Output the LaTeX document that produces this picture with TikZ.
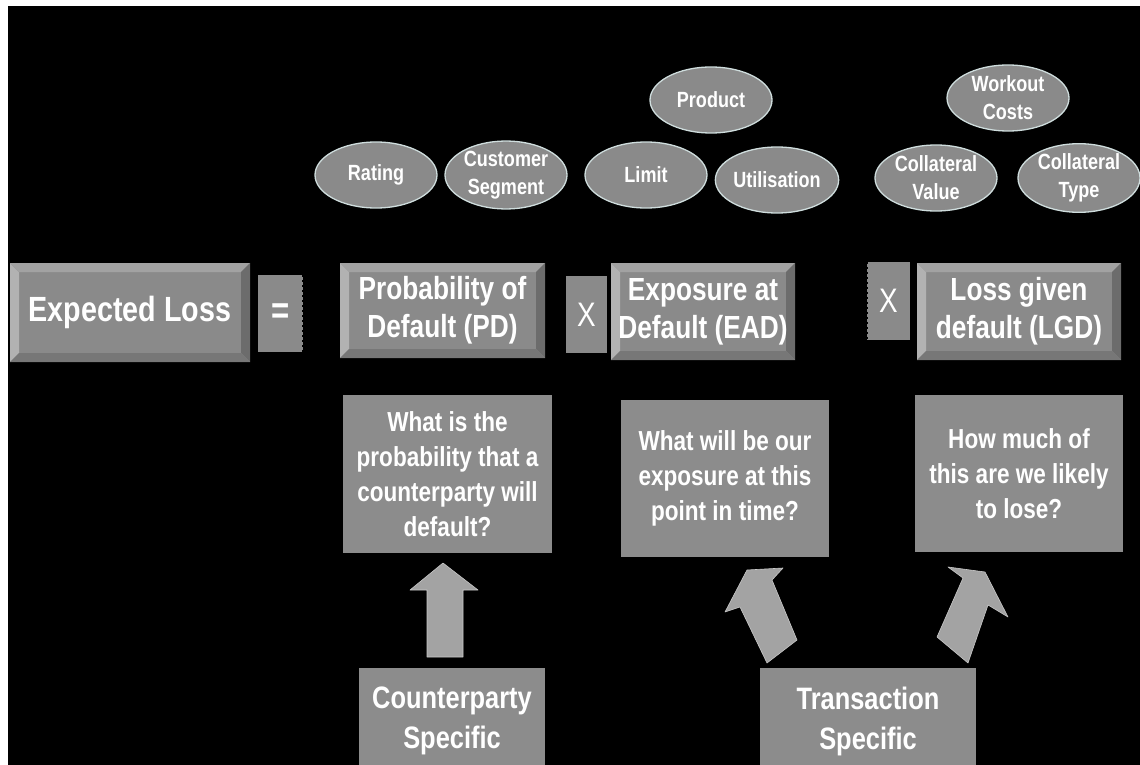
\documentclass[tikz,border=0pt]{standalone}
\usepackage{fontspec}
\setmainfont{Liberation Sans}
\newfontfamily\nf[FakeStretch=0.82]{Liberation Sans}
\usetikzlibrary{shapes.geometric}
\definecolor{face}{HTML}{8A8A8A}
\definecolor{bvtop}{HTML}{A2A2A2}
\definecolor{bvleft}{HTML}{B2B2B2}
\definecolor{bvright}{HTML}{6C6C6C}
\definecolor{bvbot}{HTML}{777777}
\definecolor{rim}{HTML}{CFDDDD}
\definecolor{arrowfill}{HTML}{A3A3A3}
\definecolor{qface}{HTML}{8C8C8C}
\tikzset{
  bevelbox/.style={rectangle, fill=face, inner sep=0pt, text=white, align=center,
    font=\nf\bfseries\fontsize{32}{38}\selectfont,
    path picture={
      \fill[bvleft] (path picture bounding box.north west) -- ([xshift=9pt,yshift=-9pt]path picture bounding box.north west) -- ([xshift=9pt,yshift=9pt]path picture bounding box.south west) -- (path picture bounding box.south west) -- cycle;
      \fill[bvtop] (path picture bounding box.north west) -- (path picture bounding box.north east) -- ([xshift=-9pt,yshift=-9pt]path picture bounding box.north east) -- ([xshift=9pt,yshift=-9pt]path picture bounding box.north west) -- cycle;
      \fill[bvright] (path picture bounding box.north east) -- (path picture bounding box.south east) -- ([xshift=-9pt,yshift=9pt]path picture bounding box.south east) -- ([xshift=-9pt,yshift=-9pt]path picture bounding box.north east) -- cycle;
      \fill[bvbot] (path picture bounding box.south west) -- (path picture bounding box.south east) -- ([xshift=-9pt,yshift=9pt]path picture bounding box.south east) -- ([xshift=9pt,yshift=9pt]path picture bounding box.south west) -- cycle;
    }},
  opbox/.style={rectangle, fill=face, inner sep=0pt, text=white, minimum width=42pt, minimum height=77pt},
  factor/.style={ellipse, fill=face, draw=rim, line width=1.3pt, inner sep=0pt,
    minimum width=122pt, minimum height=66pt, text=white, align=center,
    font=\nf\bfseries\fontsize{22}{28}\selectfont},
  qbox/.style={rectangle, fill=qface, inner sep=0pt, text=white, align=center,
    minimum width=208pt, minimum height=157pt,
    font=\nf\bfseries\fontsize{27.5}{35}\selectfont},
  srcbox/.style={rectangle, fill=qface, inner sep=0pt, text=white, align=center,
    minimum height=107pt,
    font=\nf\bfseries\fontsize{31}{40}\selectfont},
  blockarrow/.style={fill=arrowfill, draw=arrowfill!60!white, line width=0.6pt, line join=round}
}
\begin{document}
\begin{tikzpicture}[x=1pt,y=-1pt]
\useasboundingbox (0,0) rectangle (1140,765);
\fill[white] (0,0) rectangle (1140,765);
\fill[black] (8,6) rectangle (1140,765);
\clip (0,0) rectangle (1140,765);

% factor ellipses
\node[factor] (rating) at (376,175) {Rating};
\node[factor] (custseg) at (506,175) {Customer\\Segment};
\node[factor] (limit) at (646,175) {Limit};
\node[factor] (product) at (711,100) {Product};
\node[factor] (util) at (777,180) {Utilisation};
\node[factor] (workout) at (1008,98) {Workout\\Costs};
\node[factor] (collval) at (936,178) {Collateral\\Value};
\node[factor] (colltype) at (1079,178) {Collateral\\Type};

% equation row
\node[bevelbox, minimum width=240pt, minimum height=99pt,
      font=\nf\bfseries\fontsize{35}{40}\selectfont] (el) at (130,312.5) {Expected Loss};
\node[opbox, minimum width=45pt, font=\nf\bfseries\fontsize{38}{40}\selectfont] (eq) at (280.5,313.5) {=};
\draw[black, line width=2.2pt, dash pattern=on 2pt off 3pt] (eq.north east) -- (eq.south east);
\node[bevelbox, minimum width=205pt, minimum height=95pt] (pd) at (442.5,310.5) {Probability of\\Default (PD)};
\node[opbox, minimum width=41pt, font=\nf\fontsize{34}{40}\selectfont] (x1) at (586.5,314.5) {X};
\node[bevelbox, minimum width=184pt, minimum height=97pt] (ead) at (703,311.5) {Exposure at\\Default (EAD)};
\node[opbox, minimum width=43pt, minimum height=78pt, font=\nf\fontsize{34}{40}\selectfont] (x2) at (888.5,301) {X};
\draw[black, line width=2.2pt, dash pattern=on 2pt off 3pt] (x2.north west) -- (x2.south west);
\node[bevelbox, minimum width=204pt, minimum height=97pt] (lgd) at (1019,311.5) {Loss given\\default (LGD)};

% question boxes
\node[qbox, minimum width=209pt, minimum height=158pt] (q1) at (447.5,474) {What is the\\probability that a\\counterparty will\\default?};
\node[qbox] (q2) at (725,478.5) {What will be our\\exposure at this\\point in time?};
\node[qbox] (q3) at (1019,473.5) {How much of\\this are we likely\\to lose?};

% source boxes
\node[srcbox, minimum width=186pt] (cps) at (452,721) {Counterparty\\Specific};
\node[srcbox, minimum width=216pt] (trs) at (868,721) {Transaction\\Specific};

% block arrows
\draw[blockarrow] (427,657) -- (427,590) -- (410,590) -- (443,563) -- (478,590) -- (463,590) -- (463,657) -- cycle;
\draw[blockarrow] (767,663) -- (797,640) -- (772,580) -- (783,568) -- (747,570) -- (725,612) -- (740,607) -- cycle;
\draw[blockarrow] (968,663) -- (937,637) -- (963,578) -- (948,567) -- (985,572) -- (1008,617) -- (988,605) -- cycle;
\end{tikzpicture}
\end{document}
